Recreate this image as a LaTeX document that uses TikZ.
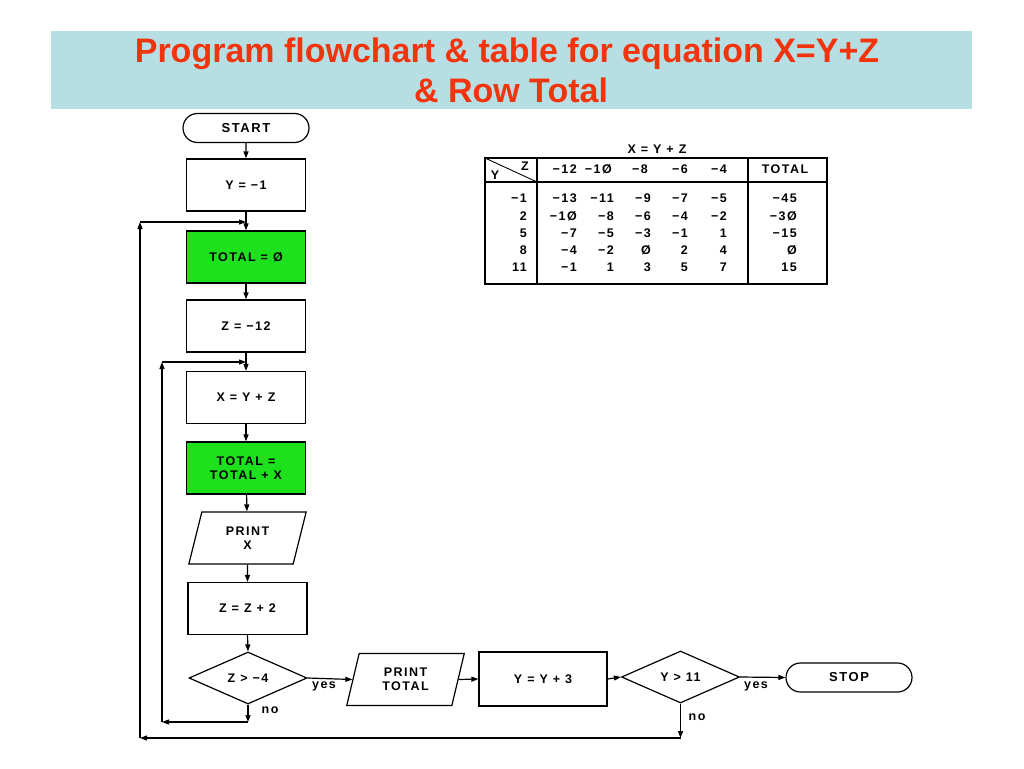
\documentclass[tikz,border=0pt]{standalone}
\usepackage{fontspec}
\setmainfont{Liberation Sans}
\newfontfamily\chartfont[LetterSpace=12]{Liberation Sans}
\usetikzlibrary{shapes.geometric,shapes.misc,arrows.meta}
\definecolor{band}{RGB}{183,222,227}
\definecolor{titlered}{RGB}{242,52,12}
\definecolor{boxgreen}{RGB}{30,225,30}
\tikzset{
  ln/.style={line width=1.2pt},
  arr/.style={ln,-{Triangle[length=7pt,width=5pt]}},
  cf/.style={font=\chartfont\bfseries\fontsize{12.5}{14.5}\selectfont},
  procbox/.style={draw,ln,rectangle,minimum width=119pt,minimum height=52pt,inner sep=0pt,align=center,cf},
  greenbox/.style={procbox,fill=boxgreen},
  iobox/.style={draw,ln,trapezium,trapezium left angle=75,trapezium right angle=105,trapezium stretches=true,minimum width=118pt,minimum height=52pt,inner sep=0pt,align=center,cf},
  decbox/.style={draw,ln,diamond,minimum width=118pt,minimum height=52pt,inner sep=0pt,aspect=2.3,cf},
  termbox/.style={draw,ln,rounded rectangle,minimum width=126pt,minimum height=29pt,inner sep=0pt,font=\chartfont\bfseries\fontsize{13}{15}\selectfont},
  lbl/.style={cf,inner sep=0pt},
  tabc/.style={cf,inner sep=0pt},
  tab/.style={cf,inner sep=0pt,anchor=base east},
  titletxt/.style={font=\fontsize{34}{40}\selectfont\bfseries,text=titlered,inner sep=0pt,anchor=base}
}
\begin{document}
\begin{tikzpicture}[x=1pt,y=-1pt]
\useasboundingbox (0,0) rectangle (1024,768);
\fill[white] (0,0) rectangle (1024,768);
% title band
\fill[band] (51,31) rectangle (972,109);
\node[titletxt] (t1) at (507,63) {Program flowchart \& table for equation X=Y+Z};
\node[titletxt] (t2) at (511,102) {\& Row Total};

% flowchart nodes
\node[termbox] (start) at (246,128) {START};
\node[procbox] (y1) at (246,185) {Y = −1};
\node[greenbox] (tot0) at (246,257) {TOTAL = Ø};
\node[procbox] (z12) at (246,326) {Z = −12};
\node[procbox] (xyz) at (246,397.5) {X = Y + Z};
\node[greenbox] (totx) at (246,468) {TOTAL =\\TOTAL + X};
\node[iobox] (printx) at (247.5,538) {PRINT\\X};
\node[procbox] (zz2) at (247.5,608.5) {Z = Z + 2};
\node[decbox] (d1) at (248,678) {Z > −4};
\node[iobox] (ptot) at (405.5,679.5) {PRINT\\TOTAL};
\node[procbox,minimum width=128pt,minimum height=54pt] (yy3) at (543,679) {Y = Y + 3};
\node[decbox] (d2) at (680.5,677) {Y > 11};
\node[termbox] (stop) at (849,677.5) {STOP};

% main flow
\draw[arr] (start) -- (y1);
\draw[arr] (y1) -- (tot0);
\draw[arr] (tot0) -- (z12);
\draw[arr] (z12) -- (xyz);
\draw[arr] (xyz) -- (totx);
\draw[arr] (totx) -- (printx);
\draw[arr] (printx.south) -- (zz2.north);
\draw[arr] (zz2.south) -- (d1.north);
\draw[arr] (d1.east) -- (ptot.west);
\draw[arr] (ptot.east) -- (yy3.west);
\draw[arr] (yy3.east) -- (d2.west);
\draw[arr] (d2.east) -- (stop.west);

% inner loop
\coordinate (i1) at (248,722);
\coordinate (i2) at (162,722);
\coordinate (i3) at (162,362);
\coordinate (i4) at (246,362);
\draw[arr] (d1.south) -- (i1);
\draw[arr] (i1) -- (i2);
\draw[arr] (i2) -- (i3);
\draw[arr] (i3) -- (i4);

% outer loop
\coordinate (o1) at (680.5,738);
\coordinate (o2) at (140,738);
\coordinate (o3) at (140,222);
\coordinate (o4) at (246,222);
\draw[arr] (d2.south) -- (o1);
\draw[arr] (o1) -- (o2);
\draw[arr] (o2) -- (o3);
\draw[arr] (o3) -- (o4);

% labels
\node[lbl] (yes1) at (324,686) {yes};
\node[lbl] (no1) at (270,710) {no};
\node[lbl] (yes2) at (756,686) {yes};
\node[lbl] (no2) at (697,717) {no};

% table
\node[tabc] (ttl) at (657,149) {X = Y + Z};
\draw[ln] (485,158) rectangle (827,284);
\draw[ln] (485,182) -- (827,182);
\draw[ln] (537,158) -- (537,284);
\draw[ln] (748,158) -- (748,284);
\draw[line width=0.9pt] (485,158) -- (537,182);
\node[tabc] (hz) at (525,166) {Z};
\node[tabc] (hy) at (495,175.5) {Y};
% header row
\node[tab] (h1) at (577,173.5) {−12};
\node[tab] (h2) at (612,173.5) {−1Ø};
\node[tab] (h3) at (648,173.5) {−8};
\node[tab] (h4) at (688,173.5) {−6};
\node[tab] (h5) at (727,173.5) {−4};
\node[cf,inner sep=0pt,anchor=base] (ht) at (785,173.5) {TOTAL};
% rows
\node[tab] (r1y) at (527,202.5) {−1};
\node[tab] (r1a) at (577,202.5) {−13};
\node[tab] (r1b) at (614,202.5) {−11};
\node[tab] (r1c) at (651,202.5) {−9};
\node[tab] (r1d) at (688,202.5) {−7};
\node[tab] (r1e) at (727,202.5) {−5};
\node[tab] (r1t) at (797,202.5) {−45};

\node[tab] (r2y) at (527,220) {2};
\node[tab] (r2a) at (577,220) {−1Ø};
\node[tab] (r2b) at (614,220) {−8};
\node[tab] (r2c) at (651,220) {−6};
\node[tab] (r2d) at (688,220) {−4};
\node[tab] (r2e) at (727,220) {−2};
\node[tab] (r2t) at (797,220) {−3Ø};

\node[tab] (r3y) at (527,237.5) {5};
\node[tab] (r3a) at (577,237.5) {−7};
\node[tab] (r3b) at (614,237.5) {−5};
\node[tab] (r3c) at (651,237.5) {−3};
\node[tab] (r3d) at (688,237.5) {−1};
\node[tab] (r3e) at (727,237.5) {1};
\node[tab] (r3t) at (797,237.5) {−15};

\node[tab] (r4y) at (527,254.5) {8};
\node[tab] (r4a) at (577,254.5) {−4};
\node[tab] (r4b) at (614,254.5) {−2};
\node[tab] (r4c) at (651,254.5) {Ø};
\node[tab] (r4d) at (688,254.5) {2};
\node[tab] (r4e) at (727,254.5) {4};
\node[tab] (r4t) at (797,254.5) {Ø};

\node[tab] (r5y) at (527,271.5) {11};
\node[tab] (r5a) at (577,271.5) {−1};
\node[tab] (r5b) at (614,271.5) {1};
\node[tab] (r5c) at (651,271.5) {3};
\node[tab] (r5d) at (688,271.5) {5};
\node[tab] (r5e) at (727,271.5) {7};
\node[tab] (r5t) at (797,271.5) {15};
\end{tikzpicture}
\end{document}
